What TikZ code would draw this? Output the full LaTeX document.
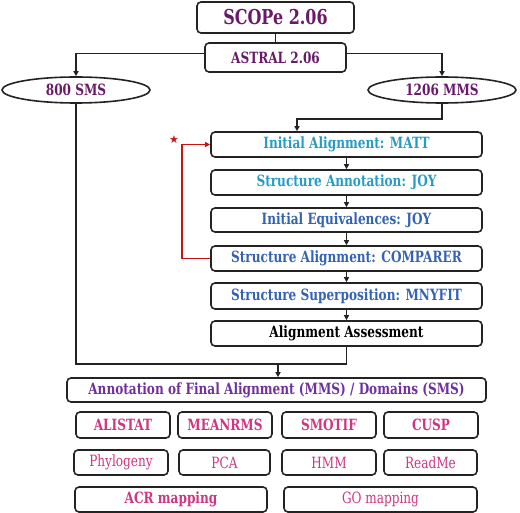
\documentclass[tikz,border=0pt]{standalone}
\usepackage{fontspec}
\setmainfont{DejaVu Serif}[FakeStretch=0.78]
\newfontfamily\symfont{DejaVu Sans}
\usetikzlibrary{arrows.meta,shapes.geometric}
\definecolor{cpurple}{RGB}{104,26,104}
\definecolor{cviolet}{RGB}{112,48,160}
\definecolor{ccyan}{RGB}{38,156,196}
\definecolor{cblue}{RGB}{52,98,180}
\definecolor{cpink}{RGB}{208,52,130}
\definecolor{cred}{RGB}{200,20,20}
\definecolor{cline}{RGB}{35,35,35}
\begin{document}
\begin{tikzpicture}[x=1pt,y=-1pt,
  box/.style={draw=cline,line width=1.6pt,rounded corners=4pt,inner sep=0pt,font=\bfseries\fontsize{15.5}{17}\selectfont},
  oval/.style={draw=cline,line width=1.6pt,ellipse,inner sep=0pt,text=cpurple,font=\bfseries\fontsize{15.5}{17}\selectfont},
  conn/.style={draw=cline,line width=1.3pt},
  arr/.style={conn,-{Triangle[length=5pt,width=5pt]}},
  redarr/.style={draw=cred,line width=1.5pt,-{Triangle[length=5pt,width=5pt]}},
  tool/.style={box,text=cpink},
  toolr/.style={box,text=cpink,font=\fontsize{15.5}{17}\selectfont}]
\useasboundingbox (0,0) rectangle (520,513);
\node[box,text=cpurple,minimum width=157,minimum height=31,font=\bfseries\fontsize{20.5}{22}\selectfont] (scope) at (275.5,17.5) {SCOPe 2.06};
\node[box,text=cpurple,minimum width=141,minimum height=29] (astral) at (275.5,57.5) {ASTRAL 2.06};
\node[oval,minimum width=148,minimum height=26] (sms) at (76,90) {800 SMS};
\node[oval,minimum width=148,minimum height=26] (mms) at (442,90) {1206 MMS};
\node[box,text=ccyan,minimum width=271,minimum height=25] (ia) at (346.5,144.5) {Initial Alignment: MATT};
\node[box,text=ccyan,minimum width=271,minimum height=25] (sa) at (346.5,182.5) {Structure Annotation: JOY};
\node[box,text=cblue,minimum width=271,minimum height=24] (ie) at (346.5,220) {Initial Equivalences: JOY};
\node[box,text=cblue,minimum width=271,minimum height=25] (sal) at (346.5,258.5) {Structure Alignment: COMPARER};
\node[box,text=cblue,minimum width=271,minimum height=26] (ss) at (346.5,296) {Structure Superposition: MNYFIT};
\node[box,text=black,minimum width=271,minimum height=25] (aa) at (346.5,333.5) {Alignment Assessment};
\node[box,text=cviolet,minimum width=419,minimum height=24] (ann) at (276.5,390) {Annotation of Final Alignment (MMS) / Domains (SMS)};
\node[tool,minimum width=94,minimum height=26] (alistat) at (123,425) {ALISTAT};
\node[tool,minimum width=94,minimum height=26] (meanrms) at (225,425) {MEANRMS};
\node[tool,minimum width=94,minimum height=26] (smotif) at (329,425) {SMOTIF};
\node[tool,minimum width=94,minimum height=26] (cusp) at (431,425) {CUSP};
\node[toolr,minimum width=94,minimum height=25] (phylo) at (121,462.5) {Phylogeny};
\node[toolr,minimum width=91,minimum height=25] (pca) at (224.5,462.5) {PCA};
\node[toolr,minimum width=94,minimum height=25] (hmm) at (329,462.5) {HMM};
\node[toolr,minimum width=93,minimum height=25] (readme) at (430.5,462.5) {ReadMe};
\node[tool,minimum width=192,minimum height=25] (acr) at (171,499.5) {ACR mapping};
\node[toolr,minimum width=193,minimum height=25] (go) at (380.5,499.5) {GO mapping};
\node[text=cred,inner sep=0pt,font=\symfont\fontsize{11}{11}\selectfont] (star) at (174,140) {★};
% connectors
\draw[conn] (scope.south) -- (astral.north);
\draw[arr] ([yshift=4pt]astral.west) -| (sms.north);
\draw[arr] ([yshift=4pt]astral.east) -| (mms.north);
\coordinate (k) at (297,119);
\draw[arr] (mms.south) |- (k) -- (k |- ia.north);
\draw[arr] (ia) -- (sa);
\draw[arr] (sa) -- (ie);
\draw[arr] (ie) -- (sal);
\draw[arr] (sal) -- (ss);
\draw[arr] (ss) -- (aa);
\draw[redarr] (sal.west) -- ++(-28,0) |- (ia.west);
\coordinate (m) at (345,364);
\draw[conn] (aa.south) |- (m) -| (sms.south);
\coordinate (n) at (278,364);
\draw[arr] (n) -- (n |- ann.north);
\end{tikzpicture}
\end{document}
